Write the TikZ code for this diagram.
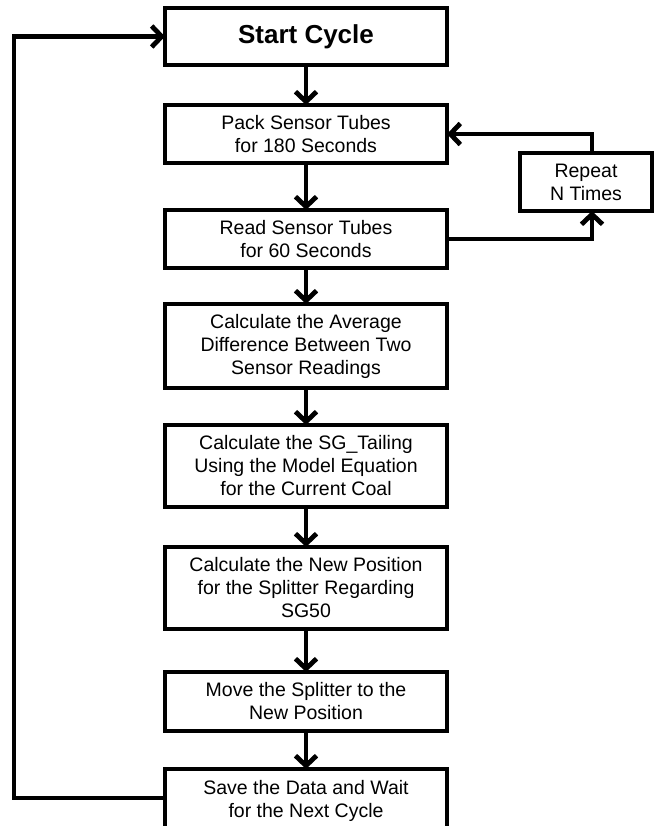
\documentclass[tikz,border=0pt]{standalone}
\usepackage{fontspec}
\setmainfont{Liberation Sans}
\usetikzlibrary{arrows.meta}
\begin{document}
\begin{tikzpicture}[x=1pt,y=-1pt,
  box/.style={draw, line width=3.2pt, fill=white, minimum width=282pt, align=center,
    inner sep=0pt, outer sep=0pt, font=\fontsize{19.5pt}{23pt}\selectfont},
  conn/.style={line width=4.8pt, -{Straight Barb[length=10pt,width=21pt]}}]
\useasboundingbox (0,0) rectangle (654,826);
\node[box, minimum height=57pt, font=\fontsize{26pt}{30pt}\selectfont\bfseries] (start) at (306,36.5) {Start Cycle};
\node[box, minimum height=58pt] (pack) at (306,134) {Pack Sensor Tubes\\for 180 Seconds};
\node[box, minimum height=58pt] (read) at (306,239) {Read Sensor Tubes\\for 60 Seconds};
\node[box, minimum height=84pt] (avg) at (306,346) {Calculate the Average\\Difference Between Two\\Sensor Readings};
\node[box, minimum height=82pt] (sg) at (306,466) {Calculate the SG\_Tailing\\Using the Model Equation\\for the Current Coal};
\node[box, minimum height=82pt] (newpos) at (306,588) {Calculate the New Position\\for the Splitter Regarding\\SG50};
\node[box, minimum height=59pt] (move) at (306,701.5) {Move the Splitter to the\\New Position};
\node[box, minimum height=64pt] (save) at (306,801) {Save the Data and Wait\\for the Next Cycle};
\node[box, minimum width=132pt, minimum height=58pt] (repeat) at (586,182) {Repeat\\N Times};
\coordinate (lp) at (14,0);
\coordinate (rp) at (592,0);
\coordinate (sy) at (0,798);
\draw[conn] (start) -- (pack);
\draw[conn] (pack) -- (read);
\draw[conn] (read) -- (avg);
\draw[conn] (avg) -- (sg);
\draw[conn] (sg) -- (newpos);
\draw[conn] (newpos) -- (move);
\draw[conn] (move) -- (save);
\draw[conn] (repeat.north -| rp) |- (pack.east);
\draw[conn] (read.east) -| (repeat.south -| rp);
\draw[conn] (save.west |- sy) -- (lp |- sy) -- (start.west -| lp) -- (start.west);
\end{tikzpicture}
\end{document}
